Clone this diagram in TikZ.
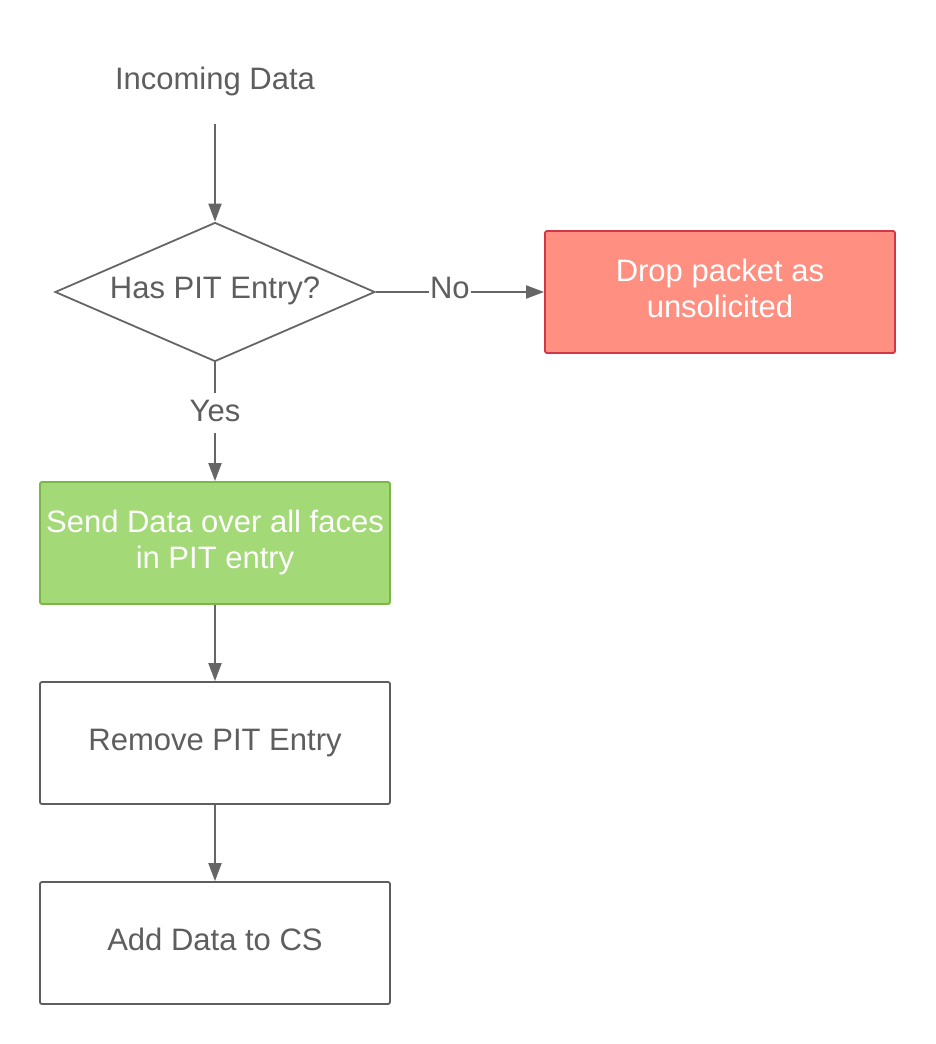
\documentclass[tikz,border=0pt]{standalone}
\usepackage{fontspec}
\setmainfont{Liberation Sans}
\usetikzlibrary{arrows.meta,shapes.geometric}
\definecolor{ln}{HTML}{666666}
\definecolor{tx}{HTML}{5E5E5E}
\definecolor{redf}{HTML}{FF8F80}
\definecolor{redd}{HTML}{D0384A}
\definecolor{grnf}{HTML}{A3D977}
\definecolor{grnd}{HTML}{7AB648}
\begin{document}
\begin{tikzpicture}[x=1pt,y=-1pt,
  every node/.style={font=\fontsize{31}{36}\selectfont, text=tx},
  box/.style={draw=tx, line width=1.8pt, rounded corners=2pt, minimum width=350pt, minimum height=122pt, align=center, inner sep=0pt},
  onel/.style={text height=22pt, text depth=8pt},
  twol/.style={text height=60pt, text depth=10pt},
  conn/.style={draw=ln, line width=2pt, -{Triangle[length=18pt,width=13pt]}},
  lbl/.style={fill=white, inner sep=1pt, text height=25pt, text depth=13pt},
  lblv/.style={fill=white, inner sep=1pt, text height=28pt, text depth=10pt}]
\useasboundingbox (0,0) rectangle (935,1044);
\node[anchor=base] (inc) at (215,89) {Incoming Data};
\coordinate (incb) at (215,124);
\node[diamond, draw=ln, line width=1.8pt, minimum width=320pt, minimum height=139pt, inner sep=0pt, aspect=2.3, text height=22pt, text depth=10pt] (dec) at (215,292) {Has PIT Entry?};
\node[box, twol, fill=redf, draw=redd, text=white] (drop) at (720,292) {Drop packet as\\unsolicited};
\node[box, twol, fill=grnf, draw=grnd, text=white] (send) at (215,543) {Send Data over all faces\\in PIT entry};
\node[box, onel, fill=white] (rem) at (215,743) {Remove PIT Entry};
\node[box, onel, fill=white] (add) at (215,943) {Add Data to CS};
\draw[conn] (incb) -- (dec.north);
\draw[conn] (dec.east) -- node[lbl, pos=0.44] {No} (drop.west);
\draw[conn] (dec.south) -- node[lblv, pos=0.425] {Yes} (send.north);
\draw[conn] (send.south) -- (rem.north);
\draw[conn] (rem.south) -- (add.north);
\end{tikzpicture}
\end{document}
